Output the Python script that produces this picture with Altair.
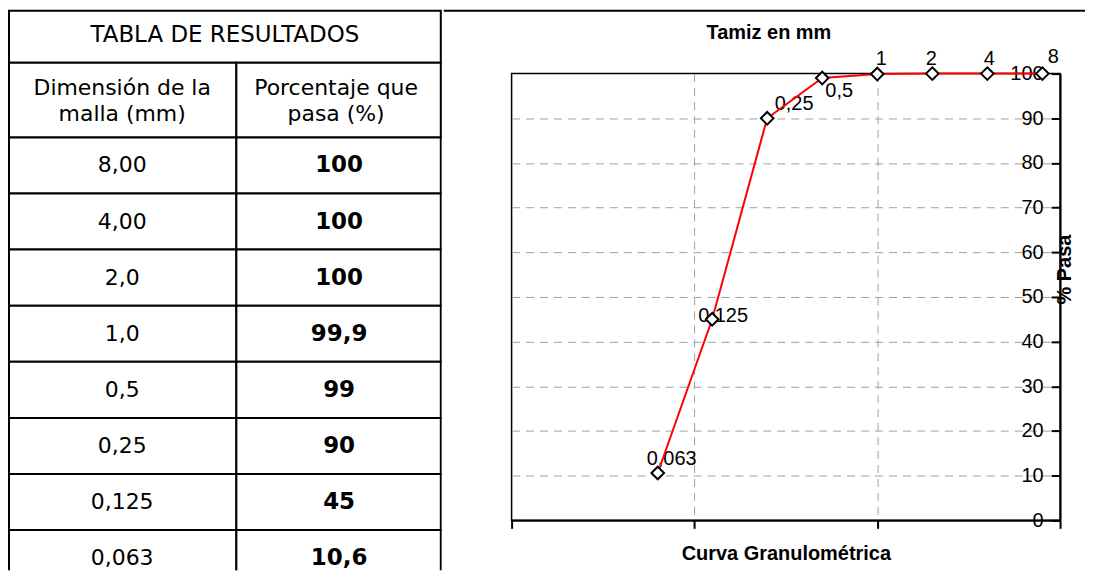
import altair as alt
import pandas as pd

# ---------------- data ----------------
table_title = "TABLA DE RESULTADOS"
header_left = ["Dimensión de la", "malla (mm)"]
header_right = ["Porcentaje que", "pasa (%)"]
size_labels = ["8,00", "4,00", "2,0", "1,0", "0,5", "0,25", "0,125", "0,063"]
pct_labels = ["100", "100", "100", "99,9", "99", "90", "45", "10,6"]

sieve_mm = [8, 4, 2, 1, 0.5, 0.25, 0.125, 0.063]
pct_pass = [100, 100, 100, 99.9, 99, 90, 45, 10.6]
point_labels = ["8", "4", "2", "1", "0,5", "0,25", "0,125", "0,063"]

chart_top_title = "Tamiz en mm"
x_title = "Curva Granulométrica"
y_title = "% Pasa"
x_ticks = [0.01, 0.1, 1, 10]
y_ticks = [0, 10, 20, 30, 40, 50, 60, 70, 80, 90, 100]

# ---------------- styling / layout (pixels, relative to plot-area top) ----------------
TF = "DejaVu Sans"
CF = "Liberation Sans"
LW, RW = 229, 206           # table column widths
TW = LW + RW                # table width
TITLE_TOP, HEAD_TOP, DATA_TOP = -63, -11, 64
DATA_BOTTOM = DATA_TOP + 450
TABLE_VIEW_H = 498
RECT = dict(fill="white", stroke="black", strokeWidth=2)

# ---------------- table (single view, text & cells) ----------------
title_df = pd.DataFrame({"t": [table_title]})
hl_df = pd.DataFrame({"t": ["\n".join(header_left)]})
hr_df = pd.DataFrame({"t": ["\n".join(header_right)]})
rows_df = pd.DataFrame({"row": list(range(len(size_labels))),
                        "size": size_labels, "pct": pct_labels})

yrow = alt.Y("row:O", axis=None,
             scale=alt.Scale(range=[DATA_TOP, DATA_BOTTOM], paddingInner=0, paddingOuter=0))

title_box = alt.Chart(title_df).mark_rect(**RECT).encode(
    x=alt.value(1), x2=alt.value(TW - 1), y=alt.value(TITLE_TOP), y2=alt.value(HEAD_TOP))
title_txt = alt.Chart(title_df).mark_text(font=TF, fontSize=23, color="black",
                                          baseline="middle").encode(
    text="t:N", x=alt.value(TW / 2), y=alt.value(-39))

hl_box = alt.Chart(hl_df).mark_rect(**RECT).encode(
    x=alt.value(1), x2=alt.value(LW), y=alt.value(HEAD_TOP), y2=alt.value(DATA_TOP))
hr_box = alt.Chart(hr_df).mark_rect(**RECT).encode(
    x=alt.value(LW), x2=alt.value(TW - 1), y=alt.value(HEAD_TOP), y2=alt.value(DATA_TOP))
head_style = dict(font=TF, fontSize=22, color="black", baseline="middle",
                  lineBreak="\n", lineHeight=27)
hl_txt = alt.Chart(hl_df).mark_text(**head_style).encode(
    text="t:N", x=alt.value(LW / 2), y=alt.value(14))
hr_txt = alt.Chart(hr_df).mark_text(**head_style).encode(
    text="t:N", x=alt.value(LW + RW / 2 - 3), y=alt.value(14))

left_cells = alt.Chart(rows_df).mark_rect(clip=True, **RECT).encode(
    y=yrow, x=alt.value(1), x2=alt.value(LW))
right_cells = alt.Chart(rows_df).mark_rect(clip=True, **RECT).encode(
    y=yrow, x=alt.value(LW), x2=alt.value(TW - 1))
left_txt = alt.Chart(rows_df).mark_text(font=TF, fontSize=22, color="black",
                                        baseline="middle", clip=True).encode(
    y=yrow, x=alt.value(LW / 2), text="size:N")
right_txt = alt.Chart(rows_df).mark_text(font=TF, fontSize=23, fontWeight="bold",
                                         color="black", baseline="middle", clip=True).encode(
    y=yrow, x=alt.value(LW + RW / 2), text="pct:N")

table = alt.layer(title_box, hl_box, hr_box, left_cells, right_cells,
                  title_txt, hl_txt, hr_txt, left_txt, right_txt).properties(
    width=TW, height=TABLE_VIEW_H)

# ---------------- plot ----------------
W, H = 550, 448
plot_df = pd.DataFrame({"mm": sieve_mm, "pasa": pct_pass, "lab": point_labels})

x_enc = alt.X("mm:Q",
              scale=alt.Scale(type="log", domain=[0.01, 10], nice=False),
              axis=alt.Axis(values=x_ticks, labels=False, tickSize=8, tickWidth=2,
                            tickColor="black", domainColor="black", domainWidth=2,
                            grid=True, gridColor="#a0a0a0", gridDash=[8, 6], gridWidth=1,
                            gridOpacity={"condition": {"test": "datum.value <= 0.01 || datum.value >= 10",
                                                       "value": 0}, "value": 1},
                            title=x_title, titleFont=CF, titleFontSize=20,
                            titleFontWeight="bold", titleColor="black", titlePadding=14))
y_enc = alt.Y("pasa:Q",
              scale=alt.Scale(domain=[0, 100], nice=False),
              axis=alt.Axis(orient="left", offset=-W, values=y_ticks,
                            tickSize=9, tickWidth=2, tickColor="black",
                            domainColor="black", domainWidth=2,
                            labelFont=CF, labelFontSize=20, labelColor="black", labelPadding=8,
                            grid=True, gridColor="#a0a0a0", gridDash=[8, 6], gridWidth=1,
                            gridOpacity={"condition": {"test": "datum.value <= 0 || datum.value >= 100",
                                                       "value": 0}, "value": 1},
                            title=y_title, titleFont=CF, titleFontSize=20, titleFontWeight="bold",
                            titleColor="black", titleAngle=270, titleX=4, titleY=196,
                            titleAlign="center", titleBaseline="middle"))

border = alt.Chart(pd.DataFrame({"a": [0]})).mark_rule(color="black", strokeWidth=2).encode(
    x=alt.value(-68), x2=alt.value(575), y=alt.value(-63))

top_title = alt.Chart(pd.DataFrame({"t": [chart_top_title]})).mark_text(
    font=CF, fontSize=20, fontWeight="bold", color="black", baseline="middle").encode(
    text="t:N", x=alt.value(258), y=alt.value(-41))

label_nudge = {"0,063": (14, -14), "0,125": (11, -3), "0,25": (27, -14), "0,5": (17, 13),
               "1": (4, -15), "2": (-1, -15), "4": (2, -15), "8": (11, -17)}
label_layers = [
    alt.Chart(plot_df).transform_filter(alt.datum.lab == lab).mark_text(
        font=CF, fontSize=20, color="black", align="center", baseline="middle",
        dx=d[0], dy=d[1]).encode(x=x_enc, y=y_enc, text="lab:N")
    for lab, d in label_nudge.items()
]

line = alt.Chart(plot_df).mark_line(color="#ff0000", strokeWidth=2).encode(
    x=x_enc, y=y_enc, order=alt.Order("mm:Q"))
points = alt.Chart(plot_df).mark_point(shape="diamond", size=160, filled=True, fill="white",
                                       stroke="black", strokeWidth=2, opacity=1).encode(
    x=x_enc, y=y_enc)

plot = alt.layer(border, top_title, *label_layers, line, points).properties(
    width=W, height=H, view=alt.ViewBackground(stroke="black", strokeWidth=1.5))

chart = alt.hconcat(table, plot, spacing=0).properties(
    padding={"left": 0, "top": 0, "right": 0, "bottom": 0}
).resolve_scale(x="independent", y="independent").configure_view(stroke=None)

chart.save("out.html", embed_options={"renderer": "svg", "actions": False})
